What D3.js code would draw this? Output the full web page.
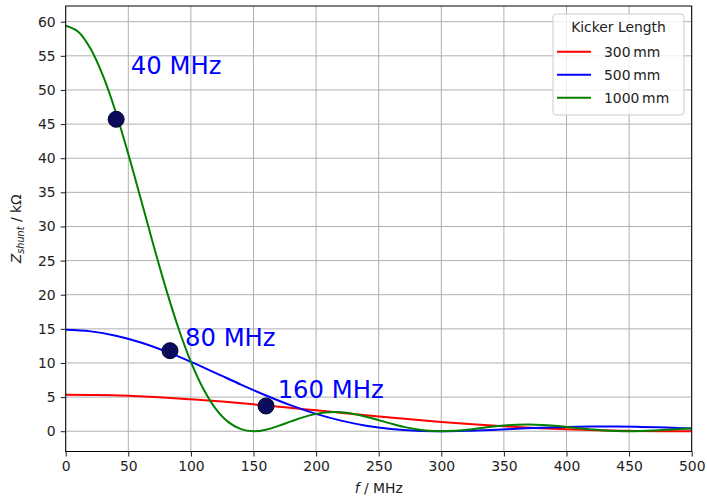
<!DOCTYPE html>
<html>
<head>
<meta charset="utf-8">
<script src="https://cdn.jsdelivr.net/npm/d3@7"></script>
<style>
  html, body { margin: 0; padding: 0; background: #fff; }
  svg { display: block; font-family: "DejaVu Sans", sans-serif; }
</style>
</head>
<body>
<svg id="chart" width="707" height="500"></svg>
<script>
// ---------- data ----------
const freqGreen = [0,10,20,30,40,50,60,70,80,90,100,110,120,130,140,150,160,170,180,190,200,210,220,230,240,250,260,270,280,290,300,310,320,330,340,350,360,370,380,390,400,410,420,430,440,450,460,470,480,490,500];
const zGreen = [59.4,58.54,56.01,51.98,46.74,40.62,34.02,27.33,20.93,15.12,10.16,6.18,3.25,1.33,0.30,0.0,0.23,0.78,1.44,2.07,2.54,2.78,2.77,2.53,2.13,1.63,1.11,0.64,0.29,0.07,0.0,0.06,0.22,0.43,0.65,0.83,0.95,0.98,0.93,0.81,0.63,0.44,0.27,0.12,0.03,0.0,0.03,0.10,0.20,0.31,0.41];

const freqBlue = [0,20,40,60,80,100,120,140,160,180,200,220,240,260,280,300,320,340,360,380,400,420,440,460,480,500];
const zBlue = [14.85,14.63,14.00,13.00,11.69,10.16,8.51,6.83,5.23,3.78,2.54,1.55,0.81,0.33,0.07,0.0,0.06,0.19,0.36,0.52,0.63,0.69,0.69,0.63,0.53,0.41];

const freqRed = [0,25,50,75,100,125,150,175,200,225,250,275,300,325,350,375,400,425,450,475,500];
const zRed = [5.35,5.31,5.18,4.97,4.68,4.34,3.94,3.51,3.06,2.61,2.17,1.75,1.36,1.02,0.72,0.48,0.29,0.15,0.06,0.01,0.0];

const seriesNames = ["300\u2009mm", "500\u2009mm", "1000\u2009mm"];
const seriesColors = ["#ff0000", "#0000ff", "#008000"];

const markerFreq = [40.3, 83.3, 160];
const markerZ = [45.7, 11.8, 3.7];
const markerLabels = ["40 MHz", "80 MHz", "160 MHz"];
const labelFreq = [52, 95.3, 169.3];
const labelZ = [52.4, 12.45, 4.93];

const xTicks = [0,50,100,150,200,250,300,350,400,450,500];
const yTicks = [0,5,10,15,20,25,30,35,40,45,50,55,60];

// ---------- layout ----------
const svg = d3.select("#chart");
const L = 65.7, R = 691.7, T = 6, B = 451.5;
const x = d3.scaleLinear().domain([0, 500]).range([L, R]);
const y = d3.scaleLinear().domain([-2.97, 62.3]).range([B, T]);

// grid
const g = svg.append("g");
g.selectAll(".gx").data(xTicks).enter().append("line")
  .attr("x1", d => x(d)).attr("x2", d => x(d)).attr("y1", T).attr("y2", B)
  .attr("stroke", "#b0b0b0").attr("stroke-width", 1);
g.selectAll(".gy").data(yTicks).enter().append("line")
  .attr("x1", L).attr("x2", R).attr("y1", d => y(d)).attr("y2", d => y(d))
  .attr("stroke", "#b0b0b0").attr("stroke-width", 1);

// axes
const xAxis = d3.axisBottom(x).tickValues(xTicks).tickSize(5).tickPadding(5).tickFormat(d3.format("d"));
const yAxis = d3.axisLeft(y).tickValues(yTicks).tickSize(5).tickPadding(5).tickFormat(d3.format("d"));
const gx = svg.append("g").attr("transform", `translate(0,${B})`).call(xAxis);
const gy = svg.append("g").attr("transform", `translate(${L},0)`).call(yAxis);
[gx, gy].forEach(a => {
  a.select(".domain").remove();
  a.selectAll("line").attr("stroke", "#000").attr("stroke-width", 0.9);
  a.selectAll("text").attr("font-size", "13.9px").attr("fill", "#222").attr("font-family", "DejaVu Sans");
});

// lines
const line = d3.line().x(d => x(d[0])).y(d => y(d[1])).curve(d3.curveCatmullRom.alpha(0.5));
const seriesData = [
  d3.zip(freqRed, zRed),
  d3.zip(freqBlue, zBlue),
  d3.zip(freqGreen, zGreen)
];
svg.append("clipPath").attr("id", "clip").append("rect")
  .attr("x", L).attr("y", T).attr("width", R - L).attr("height", B - T);
const lg = svg.append("g").attr("clip-path", "url(#clip)");
seriesData.forEach((s, i) => {
  lg.append("path").datum(s).attr("d", line)
    .attr("fill", "none").attr("stroke", seriesColors[i]).attr("stroke-width", 2);
});

// markers
svg.selectAll(".mk").data(d3.range(markerFreq.length)).enter().append("circle")
  .attr("cx", i => x(markerFreq[i])).attr("cy", i => y(markerZ[i])).attr("r", 8)
  .attr("fill", "#0c0c5c").attr("stroke", "#000033").attr("stroke-width", 1);

// annotation labels
svg.selectAll(".lb").data(d3.range(markerLabels.length)).enter().append("text")
  .attr("x", i => x(labelFreq[i])).attr("y", i => y(labelZ[i]))
  .attr("font-size", "24.3px").attr("fill", "#0000ff").text(i => markerLabels[i]);

// frame
svg.append("rect").attr("x", L).attr("y", T).attr("width", R - L).attr("height", B - T)
  .attr("fill", "none").attr("stroke", "#000").attr("stroke-width", 1);

// axis labels
const xl = svg.append("text").attr("x", (L + R) / 2).attr("y", 493).attr("text-anchor", "middle")
  .attr("font-size", "13.9px").attr("fill", "#222");
xl.append("tspan").attr("font-style", "italic").text("f");
xl.append("tspan").text(" / MHz");

const yl = svg.append("text").attr("transform", `translate(21,${(T + B) / 2}) rotate(-90)`)
  .attr("text-anchor", "middle").attr("font-size", "13.9px").attr("fill", "#222");
yl.append("tspan").attr("font-style", "italic").text("Z");
yl.append("tspan").attr("font-style", "italic").attr("font-size", "9.7px").attr("dy", "3").text("shunt");
yl.append("tspan").attr("dy", "-3").text(" / k\u03A9");

// legend
const leg = svg.append("g");
leg.append("rect").attr("x", 553).attr("y", 14).attr("width", 131).attr("height", 101)
  .attr("rx", 3).attr("fill", "#fff").attr("fill-opacity", 0.8).attr("stroke", "#cccccc");
leg.append("text").attr("x", 618.5).attr("y", 31.5).attr("text-anchor", "middle")
  .attr("font-size", "13.9px").attr("fill", "#222").text("Kicker Length");
seriesNames.forEach((n, i) => {
  const yy = 51.7 + i * 23;
  leg.append("line").attr("x1", 557).attr("x2", 591).attr("y1", yy).attr("y2", yy)
    .attr("stroke", seriesColors[i]).attr("stroke-width", 2);
  leg.append("text").attr("x", 604).attr("y", yy + 5).attr("font-size", "13.9px")
    .attr("fill", "#222").text(n);
});
</script>
</body>
</html>
